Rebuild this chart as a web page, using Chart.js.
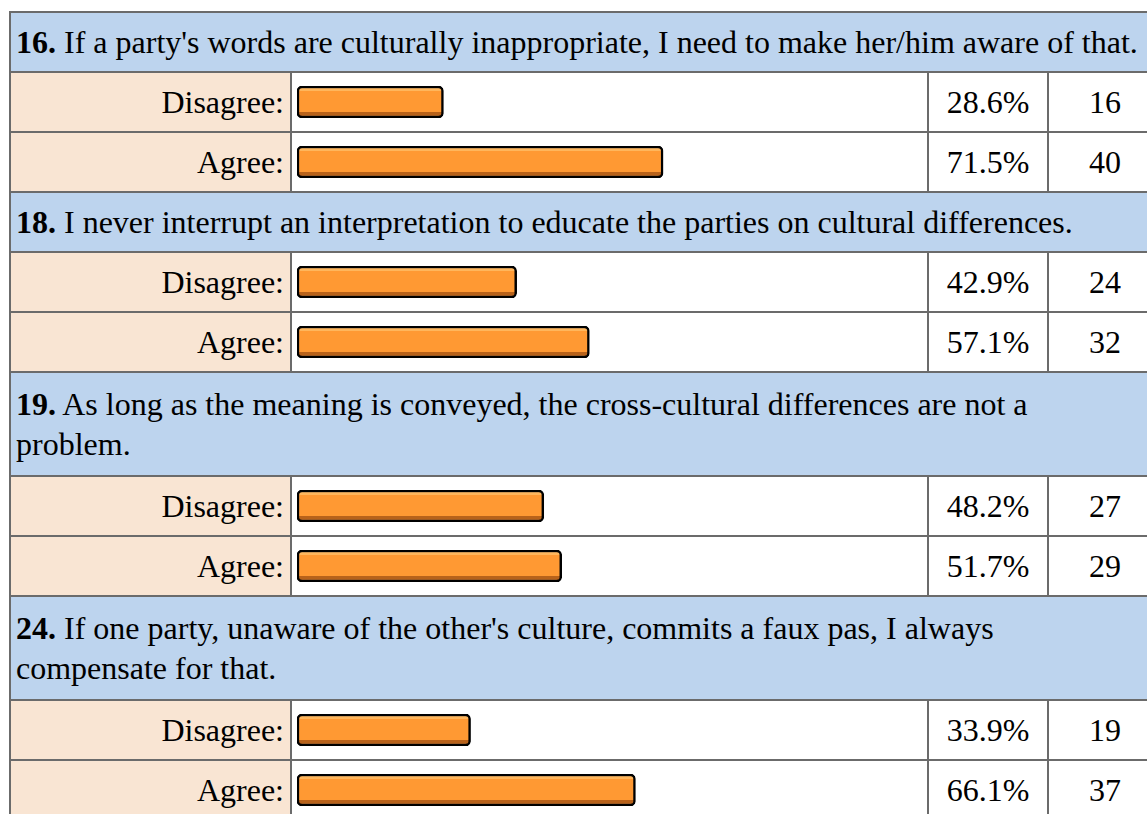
<!DOCTYPE html>
<html>
<head>
<meta charset="utf-8">
<script src="https://cdn.jsdelivr.net/npm/chart.js"></script>
<style>
  body { margin: 0; background: #fff; overflow: hidden; width: 1147px; height: 814px; }
  table {
    position: absolute; left: 9px; top: 11px;
    border-collapse: collapse; table-layout: fixed; width: 1152px;
    font-family: "Liberation Serif", "Times New Roman", serif; font-size: 32px; color: #000;
  }
  td { border: 2px solid #6b6b6b; padding: 0; line-height: 40px; }
  td.question { background: #bdd4ee; padding: 0 5px; white-space: nowrap; }
  td.label { background: #f9e5d3; text-align: right; padding-right: 6px; height: 58px; }
  td.bar { background: #fff; height: 58px; }
  td.pct, td.count { text-align: center; height: 58px; }
  .bar-box { position: relative; width: 100%; height: 58px; }
</style>
</head>
<body>
<table id="survey">
  <colgroup>
    <col style="width:281px"><col style="width:637px"><col style="width:120px"><col style="width:114px">
  </colgroup>
  <tbody id="surveyBody"></tbody>
</table>
<script>
/* Survey data */

const questionNumbers = ["16.", "18.", "19.", "24."];
const questionLines = [
    ["If a party's words are culturally inappropriate, I need to make her/him aware of that."],
    ["I never interrupt an interpretation to educate the parties on cultural differences."],
    ["As long as the meaning is conveyed, the cross-cultural differences are not a", "problem."],
    ["If one party, unaware of the other's culture, commits a faux pas, I always", "compensate for that."]
];
const answerLabels = ["Disagree:", "Agree:"];
const percentValues = [
    [28.6, 71.5],
    [42.9, 57.1],
    [48.2, 51.7],
    [33.9, 66.1]
];
const responseCounts = [
    [16, 40],
    [24, 32],
    [27, 29],
    [19, 37]
];

const surveyBody = document.querySelector("#surveyBody");
const barCanvases = [];

questionNumbers.forEach((num, q) => {
    const headRow = document.createElement("tr");
    const lines = questionLines[q];
    const headHeight = lines.length === 1 ? 58 : 102;
    headRow.innerHTML = `
        <td class="question" colspan="4" style="height:${headHeight}px"><b>${num}</b> ${lines.join("<br>")}</td>
    `;
    surveyBody.appendChild(headRow);

    answerLabels.forEach((label, a) => {
        const row = document.createElement("tr");
        row.innerHTML = `
            <td class="label">${label}</td>
            <td class="bar"><div class="bar-box"><canvas></canvas></div></td>
            <td class="pct">${percentValues[q][a].toFixed(1)}%</td>
            <td class="count">${responseCounts[q][a]}</td>
        `;
        surveyBody.appendChild(row);
        barCanvases.push({ canvas: row.querySelector("canvas"), label, value: percentValues[q][a] });
    });
});

/* Orange bar with light top edge and dark bottom edge */

function barFill(context) {
    const { ctx, chartArea } = context.chart;
    if (!chartArea) return "#ff9933";
    const g = ctx.createLinearGradient(0, chartArea.top, 0, chartArea.bottom);
    g.addColorStop(0, "#ffb65c");
    g.addColorStop(0.15, "#ffb65c");
    g.addColorStop(0.16, "#ff9933");
    g.addColorStop(0.8, "#ff9933");
    g.addColorStop(0.81, "#b8621a");
    g.addColorStop(1, "#b8621a");
    return g;
}

barCanvases.forEach(item => {
    new Chart(item.canvas, {
        type: "bar",
        data: {
            labels: [item.label],
            datasets: [
                {
                    data: [item.value],
                    backgroundColor: barFill,
                    borderColor: "#000",
                    borderWidth: 2.5,
                    borderRadius: 5,
                    borderSkipped: false,
                    barPercentage: 1,
                    categoryPercentage: 1
                }
            ]
        },
        options: {
            indexAxis: "y",
            responsive: true,
            maintainAspectRatio: false,
            animation: false,
            events: [],
            plugins: {
                legend: { display: false },
                tooltip: { enabled: false }
            },
            layout: {
                padding: { left: 5, right: 118, top: 13, bottom: 13 }
            },
            scales: {
                x: { display: false, min: 0, max: 100 },
                y: { display: false }
            }
        }
    });
});
</script>
</body>
</html>
